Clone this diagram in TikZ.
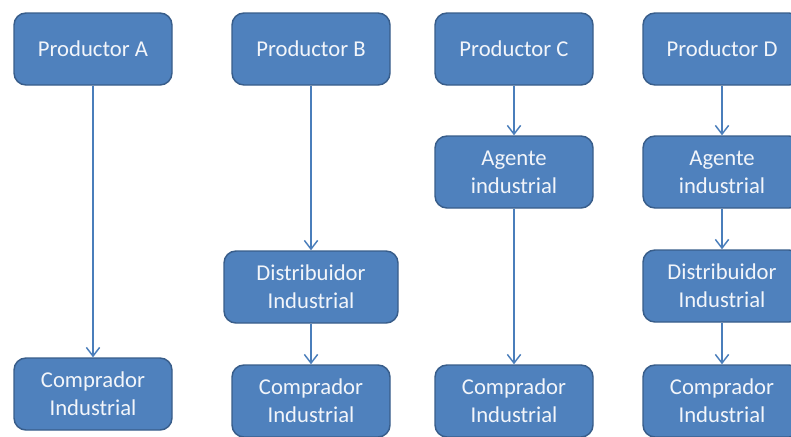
\documentclass[tikz,border=0pt]{standalone}
\usepackage{fontspec}
\setmainfont{Carlito}
\usetikzlibrary{arrows.meta}
\definecolor{boxblue}{HTML}{4F81BD}
\definecolor{boxedge}{HTML}{385D8A}
\definecolor{boxtext}{HTML}{F2F5FA}
\definecolor{linkblue}{HTML}{4A7EBB}

\begin{document}
\begin{tikzpicture}[x=0.75pt,y=-0.75pt,
  unit/.style={draw=boxedge,line width=1.1pt,fill=boxblue,rounded corners=9pt,
    minimum width=118.5pt,minimum height=54pt,align=center,text=boxtext,
    font=\fontsize{17}{21}\selectfont},
  link/.style={draw=linkblue,line width=1.1pt,-{Straight Barb[length=6.5pt,width=10pt,line width=1.1pt]}}]
\useasboundingbox (0,0) rectangle (791,436);
% pixel coordinates of the 791x436 sheet, y downwards

% channel A: direct
\node[unit] (prodA) at (93,49) {Productor A};
\node[unit] (compA) at (93,394) {Comprador\\Industrial};

% channel B: through a distributor
\node[unit] (prodB) at (311,49) {Productor B};
\node[unit,minimum width=130.5pt] (distB) at (311,287) {Distribuidor\\Industrial};
\node[unit] (compB) at (311,401) {Comprador\\Industrial};

% channel C: through an agent
\node[unit] (prodC) at (514,49) {Productor C};
\node[unit] (agenC) at (514,172) {Agente\\industrial};
\node[unit] (compC) at (514,401) {Comprador\\Industrial};

% channel D: agent and distributor
\node[unit] (prodD) at (722,49) {Productor D};
\node[unit] (agenD) at (722,172) {Agente\\industrial};
\node[unit] (distD) at (722,286) {Distribuidor\\Industrial};
\node[unit] (compD) at (722,401) {Comprador\\Industrial};

\draw[link] (prodA) -- (compA);
\draw[link] (prodB) -- (distB);
\draw[link] (distB) -- (compB);
\draw[link] (prodC) -- (agenC);
\draw[link] (agenC) -- (compC);
\draw[link] (prodD) -- (agenD);
\draw[link] (agenD) -- (distD);
\draw[link] (distD) -- (compD);
\end{tikzpicture}
\end{document}
